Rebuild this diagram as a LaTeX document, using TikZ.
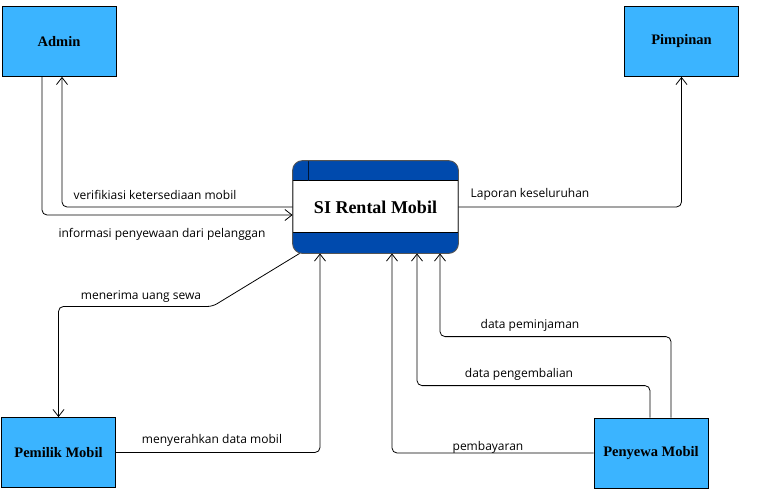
\documentclass[tikz,border=0pt]{standalone}
\usepackage{fontspec}
\setmainfont{Liberation Serif}
\newfontfamily\labelfont{Open Sans}
\usetikzlibrary{arrows.meta,positioning,calc}
\definecolor{entityfill}{HTML}{3BB4FF}
\definecolor{procband}{HTML}{004AAD}
\definecolor{procrule}{HTML}{555555}

\begin{document}
\begin{tikzpicture}[
  x=1pt,y=-1pt,
  entity/.style={draw=black,fill=entityfill,line width=0.8pt,minimum width=114pt,
                 minimum height=70pt,inner sep=2pt,font=\fontsize{14.5}{16}\selectfont\bfseries},
  process/.style={draw=procrule,fill=white,line width=0.9pt,rounded corners=10pt,
                  minimum width=165pt,minimum height=92pt,inner sep=0pt},
  flow/.style={-{Straight Barb[length=7pt,width=11pt]},draw=black,line width=0.8pt,rounded corners=5pt},
  flowlabel/.style={font=\labelfont\fontsize{12}{14}\selectfont,inner sep=0pt}
]
\useasboundingbox (0,0) rectangle (768,496);

% external entities
\node[entity] (admin)    at (59,41.5)  {Admin};
\node[entity] (pimpinan) at (681.5,41.5) {Pimpinan};
\node[entity] (pemilik)  at (58.5,452.5) {Pemilik Mobil};
\node[entity] (penyewa)  at (651,453) {Penyewa Mobil};

% process
\node[process] (si) at (375.5,207) {};
\begin{scope}
  \clip[rounded corners=10pt] (si.north west) rectangle (si.south east);
  \fill[procband] (si.north west) rectangle ([yshift=-20pt]si.north east);
  \fill[procband] (si.south west) rectangle ([yshift=21pt]si.south east);
\end{scope}
\draw[black,line width=0.8pt] ([yshift=-20pt]si.north west) -- ([yshift=-20pt]si.north east);
\draw[black,line width=0.8pt] ([yshift=21pt]si.south west) -- ([yshift=21pt]si.south east);
\draw[black!70!procband,line width=1pt] ([xshift=16pt]si.north west) -- ([xshift=16pt,yshift=-20pt]si.north west);
\draw[procrule,line width=0.9pt,rounded corners=10pt] (si.north west) rectangle (si.south east);
\node[font=\fontsize{18}{20}\selectfont\bfseries] (sitext) at (si.center) {SI Rental Mobil};

% data flows
\draw[flow] ([xshift=-17pt]admin.south) |- ([yshift=-8pt]si.west);
\draw[flow] (si.west) -| ([xshift=3pt]admin.south);
\draw[flow] (si.east) -| (pimpinan.south);
\draw[flow] ([xshift=7pt]si.south west) -- ++(-87,53) -| (pemilik.north);
\draw[flow] (pemilik.east) -| ([xshift=-55.5pt]si.south);
\draw[flow] (penyewa.west) -| ([xshift=16.5pt]si.south);
\draw[flow] ([xshift=-1pt]penyewa.north) -- ++(0,-32) -| ([xshift=41.5pt]si.south);
\draw[flow] ([xshift=20pt]penyewa.north) -- ++(0,-81) -| ([xshift=64.5pt]si.south);

% labels
\node[flowlabel] (lverif)   at (155,195) {verifikiasi ketersediaan mobil};
\node[flowlabel] (linfo)    at (162,234) {informasi penyewaan dari pelanggan};
\node[flowlabel] (llapor)   at (530,194) {Laporan keseluruhan};
\node[flowlabel] (lterima)  at (141,297) {menerima uang sewa};
\node[flowlabel] (lserah)   at (212,440) {menyerahkan data mobil};
\node[flowlabel] (lbayar)   at (488,447) {pembayaran};
\node[flowlabel] (lkembali) at (519,374) {data pengembalian};
\node[flowlabel] (lpinjam)  at (530,325) {data peminjaman};
\end{tikzpicture}
\end{document}
